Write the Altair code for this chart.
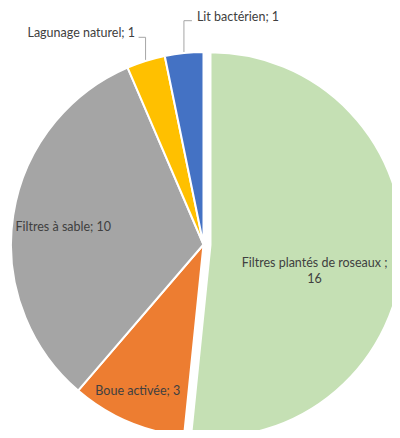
import math
import altair as alt
import pandas as pd

# ---- data ----
categories = ["Filtres plantés de roseaux", "Boue activée", "Filtres à sable",
              "Lagunage naturel", "Lit bactérien"]
values = [16, 3, 10, 1, 1]
label_texts = ["Filtres plantés de roseaux ;\n16", "Boue activée; 3", "Filtres à sable; 10",
               "Lagunage naturel; 1", "Lit bactérien; 1"]
colors = ["#C5E0B4", "#ED7D31", "#A5A5A5", "#FFC000", "#4472C4"]

# ---- layout (style) ----
W, H = 384, 422
CX, CY, R = 195.5, 236.5, 192.5
EXPLODE = 7  # green slice pulled out along its bisector

total = sum(values)
df = pd.DataFrame({"cat": categories, "val": values, "idx": list(range(len(values)))})
df["end"] = df["val"].cumsum()
df["start"] = df["end"] - df["val"]

mid = [(s + v / 2) / total * 2 * math.pi for s, v in zip(df["start"], df["val"])]
ex_dx = EXPLODE * math.sin(mid[0])
ex_dy = -EXPLODE * math.cos(mid[0])

def pt(i, rad, ox=0.0, oy=0.0):
    return (CX + rad * math.sin(mid[i]) + ox, CY - rad * math.cos(mid[i]) + oy)

# label placement
lab_rows = []
gx, gy = pt(0, 0.578 * R, ex_dx, ex_dy)
lab_rows.append({"x": gx - 7, "y": gy + 13, "t": label_texts[0], "a": "center"})
bx, by = pt(1, 0.826 * R)
lab_rows.append({"x": bx - 3, "y": by, "t": label_texts[1], "a": "center"})
sx, sy = pt(2, 0.737 * R)
lab_rows.append({"x": sx, "y": sy + 3.7, "t": label_texts[2], "a": "center"})

p3 = pt(3, R + 1)
p4 = pt(4, R + 1)
lab_rows.append({"x": p3[0] - 10.5, "y": 25.3, "t": label_texts[3], "a": "right"})
lab_rows.append({"x": p4[0] + 13, "y": 8.7, "t": label_texts[4], "a": "left"})
labels = pd.DataFrame(lab_rows)

# leader lines
lead_rows = [
    {"g": "lag", "o": 0, "x": p3[0], "y": p3[1]},
    {"g": "lag", "o": 1, "x": p3[0], "y": 29.3},
    {"g": "lag", "o": 2, "x": p3[0] - 7, "y": 29.3},
    {"g": "lit", "o": 0, "x": p4[0], "y": p4[1]},
    {"g": "lit", "o": 1, "x": p4[0], "y": 12.7},
    {"g": "lit", "o": 2, "x": p4[0] + 8, "y": 12.7},
]
leads = pd.DataFrame(lead_rows)

theta_scale = alt.Scale(domain=[0, total], range=[0, 2 * math.pi])
color_scale = alt.Scale(domain=categories, range=colors)

base = alt.Chart(df).mark_arc(outerRadius=R, stroke="white", strokeWidth=2).encode(
    theta=alt.Theta("start:Q", scale=theta_scale),
    theta2="end:Q",
    color=alt.Color("cat:N", scale=color_scale, legend=None),
)
pie_rest = base.transform_filter("datum.idx > 0").encode(x=alt.value(CX), y=alt.value(CY))
pie_green = base.transform_filter("datum.idx == 0").encode(
    x=alt.value(CX + ex_dx), y=alt.value(CY + ex_dy))

lines = alt.Chart(leads).mark_line(color="#A6A6A6", strokeWidth=1).encode(
    x=alt.X("x:Q", scale=None, axis=None),
    y=alt.Y("y:Q", scale=None, axis=None),
    detail="g:N",
    order="o:Q",
)

def text_layer(align):
    return alt.Chart(labels).transform_filter(f"datum.a == '{align}'").mark_text(
        font="Lato", fontSize=12.5, color="#404040", align=align, baseline="middle",
        lineBreak="\n", lineHeight=15.5,
    ).encode(
        x=alt.X("x:Q", scale=None, axis=None),
        y=alt.Y("y:Q", scale=None, axis=None),
        text="t:N",
    )

chart = alt.layer(pie_rest, pie_green, lines, text_layer("center"),
                  text_layer("left"), text_layer("right")).properties(
    width=W, height=H, autosize=alt.AutoSizeParams(type="none"), padding=0,
).configure_view(stroke=None)

chart.save("out.html", embed_options={"renderer": "svg", "actions": False})
